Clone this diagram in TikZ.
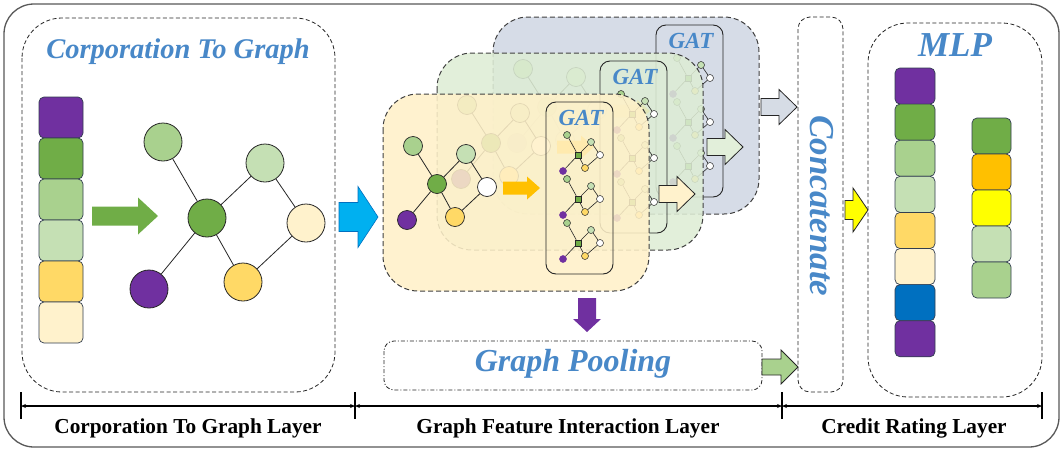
\documentclass[tikz,border=0pt]{standalone}
\usepackage{fontspec}
\setmainfont{Liberation Serif}
\usetikzlibrary{arrows.meta}
\definecolor{purpleC}{HTML}{7030A0}
\definecolor{greenD}{HTML}{70AD47}
\definecolor{greenM}{HTML}{A9D18E}
\definecolor{greenL}{HTML}{C5E0B4}
\definecolor{goldC}{HTML}{FFD966}
\definecolor{creamC}{HTML}{FFF2CC}
\definecolor{blueC}{HTML}{0070C0}
\definecolor{orangeC}{HTML}{FFC000}
\definecolor{yellowC}{HTML}{FFFF00}
\definecolor{skyC}{HTML}{00B0F0}
\definecolor{titleC}{RGB}{72,136,200}
\definecolor{backC}{RGB}{208,215,228}
\definecolor{midC}{RGB}{222,237,213}
\definecolor{frontC}{RGB}{255,241,201}
\definecolor{arrBack}{HTML}{D6DCE5}
\definecolor{arrMid}{HTML}{E2EFDA}
\definecolor{cellline}{RGB}{50,62,80}

\newcommand\harrow[7]{\path[#1] (#2,#5-#6) -- (#3,#5-#6) -- (#3,#5-#7) -- (#4,#5) -- (#3,#5+#7) -- (#3,#5+#6) -- (#2,#5+#6) -- cycle;}

\newcommand\gatlayer[4]{%
\begin{scope}[shift={(#1,#2)}]
 \path[laybox, fill=#3] (0,0) rectangle (266,197);
 \node[midc, fill=greenM] (#4a) at (30,52) {};
 \node[midc, fill=greenD] (#4b) at (54,90) {};
 \node[midc, fill=greenL] (#4c) at (83,60) {};
 \node[midc, fill=white] (#4d) at (104,93) {};
 \node[midc, fill=goldC] (#4e) at (72,123) {};
 \node[midc, fill=purpleC] (#4f) at (24,126) {};
 \draw[edge] (#4a)--(#4b) (#4b)--(#4c) (#4c)--(#4d) (#4d)--(#4e) (#4e)--(#4b) (#4b)--(#4f);
 \harrow{fill=orangeC}{120}{144}{157}{94}{6.5}{11.5}
 \draw[gatbox] (163,8) rectangle (230,180);
 \node[ttl, font=\bfseries\itshape\fontsize{23}{24}\selectfont] (#4t) at (198,24) {GAT};
 \foreach \dy [count=\k] in {0,44,88}{
  \node[minic, fill=greenM] (#4m\k-a) at (184,41+\dy) {};
  \node[minisq] (#4m\k-b) at (195,61+\dy) {};
  \node[minic, fill=greenL] (#4m\k-c) at (208,48+\dy) {};
  \node[minic, fill=white] (#4m\k-d) at (217,61+\dy) {};
  \node[minic, fill=goldC] (#4m\k-e) at (202,74+\dy) {};
  \node[minic, fill=purpleC, draw=purpleC] (#4m\k-f) at (180,77+\dy) {};
  \draw[medge] (#4m\k-a)--(#4m\k-b) (#4m\k-b)--(#4m\k-c) (#4m\k-c)--(#4m\k-d)
     (#4m\k-d)--(#4m\k-e) (#4m\k-e)--(#4m\k-b) (#4m\k-b)--(#4m\k-f);
 }
\end{scope}}

\begin{document}
\begin{tikzpicture}[x=1pt,y=-1pt,
  dbox/.style={draw=black!85, line width=0.8pt, dash pattern=on 4pt off 2.5pt},
  laybox/.style={draw=black!75, line width=1pt, dash pattern=on 5pt off 3pt, rounded corners=35, fill opacity=0.87},
  gatbox/.style={draw=black!85, line width=0.9pt, rounded corners=10},
  cell/.style={draw=cellline, line width=0.7pt, rounded corners=5},
  bigc/.style={circle, draw=black!85, line width=0.8pt, minimum size=38pt, inner sep=0pt},
  midc/.style={circle, draw=black!85, line width=0.7pt, minimum size=19pt, inner sep=0pt},
  minic/.style={circle, draw=black!85, line width=0.5pt, minimum size=7pt, inner sep=0pt},
  minisq/.style={rectangle, draw=black!85, fill=greenD, line width=0.5pt, minimum size=6pt, inner sep=0pt},
  edge/.style={draw=black!85, line width=0.8pt},
  medge/.style={draw=black!85, line width=0.6pt},
  ttl/.style={text=titleC, inner sep=0pt},
  lbl/.style={font=\bfseries\fontsize{21.3}{23}\selectfont, anchor=base, inner sep=0pt},
  dimln/.style={line width=1.4pt, {Stealth[length=5pt,width=4pt]}-{Stealth[length=5pt,width=4pt]}},
  tick/.style={line width=1.4pt},
  blk/.style={draw=black!85, line width=0.8pt}
]
\useasboundingbox (0,0) rectangle (1063,453);
\fill[white] (0,0) rectangle (1063,453);
% outer frame
\draw[draw=black!65, line width=1.3pt, rounded corners=30] (4,4) rectangle (1059,447);

% ===== Corporation To Graph =====
\draw[dbox, rounded corners=40] (22,18) rectangle (335,392);
\node[ttl, font=\bfseries\itshape\fontsize{28.5}{30}\selectfont] (t1) at (178,52) {Corporation To Graph};
\foreach \c [count=\i from 0] in {purpleC,greenD,greenM,greenL,goldC,creamC}
  \draw[cell, fill=\c] (39,97+41*\i) rectangle (83,138+41*\i);
\harrow{fill=greenD}{92}{138}{158}{216}{9.5}{18.5}
\node[bigc, fill=greenM] (ga) at (163,142) {};
\node[bigc, fill=greenD] (gb) at (207,218) {};
\node[bigc, fill=greenL] (gc) at (265,163) {};
\node[bigc, fill=creamC] (gd) at (306,223) {};
\node[bigc, fill=goldC] (ge) at (243,282) {};
\node[bigc, fill=purpleC] (gf) at (149,289) {};
\draw[edge] (ga)--(gb) (gb)--(gc) (gc)--(gd) (gd)--(ge) (ge)--(gb) (gb)--(gf);
\harrow{fill=skyC, draw=blueC, line width=0.6pt}{339}{358}{378}{217}{14.5}{30.5}

% ===== GAT layers =====
\gatlayer{493}{17}{backC}{L3}
\gatlayer{437}{53}{midC}{L2}
\gatlayer{383}{94}{frontC}{L1}
\harrow{fill=creamC, blk}{659}{677}{695}{194}{8.5}{17.5}
\harrow{fill=arrMid, blk}{707}{725}{743}{147}{8.5}{17.5}
\harrow{fill=arrBack, blk}{761}{779}{797}{107}{8.5}{17.5}

% pooling
\path[fill=purpleC] (578,298) -- (596,298) -- (596,319) -- (601,319) -- (587,332) -- (573,319) -- (578,319) -- cycle;
\draw[draw=black!85, line width=0.8pt, dash pattern=on 4pt off 2pt on 1pt off 2pt, rounded corners=10] (384,341) rectangle (762,390);
\node[ttl, font=\bfseries\itshape\fontsize{32}{34}\selectfont] (tp) at (573,364) {Graph Pooling};
\harrow{fill=greenM, blk}{762}{781}{798}{367}{8}{17}

% concatenate
\draw[dbox, rounded corners=12] (798,17) rectangle (843,392);
\node[ttl, rotate=-90, font=\bfseries\itshape\fontsize{35}{37}\selectfont] (tc) at (822,206) {Concatenate};
\harrow{fill=yellowC, blk}{845}{853}{868}{210}{9.5}{22}

% MLP
\draw[dbox, rounded corners=40] (868,23) rectangle (1042,397);
\node[ttl, font=\bfseries\itshape\fontsize{35}{37}\selectfont] (tm) at (955,45) {MLP};
\foreach \c [count=\i from 0] in {purpleC,greenD,greenM,greenL,goldC,creamC,blueC,purpleC}
  \draw[cell, fill=\c] (895,68+36.1*\i) rectangle (935,104.1+36.1*\i);
\foreach \c [count=\i from 0] in {greenD,orangeC,yellowC,greenL,greenM}
  \draw[cell, fill=\c] (972,118+36*\i) rectangle (1011,154+36*\i);

% dimension line
\coordinate (d0) at (21,406);
\coordinate (d1) at (355,406);
\coordinate (d2) at (782,406);
\coordinate (d3) at (1042,406);
\draw[dimln] (d0)--(d1);
\draw[dimln] (d1)--(d2);
\draw[dimln] (d2)--(d3);
\foreach \p in {d0,d1,d2,d3} \draw[tick] ([yshift=14pt]\p) -- ([yshift=-13pt]\p);
\node[lbl] (l1) at (188,433) {Corporation To Graph Layer};
\node[lbl] (l2) at (568,433) {Graph Feature Interaction Layer};
\node[lbl] (l3) at (914,433) {Credit Rating Layer};
\end{tikzpicture}
\end{document}
